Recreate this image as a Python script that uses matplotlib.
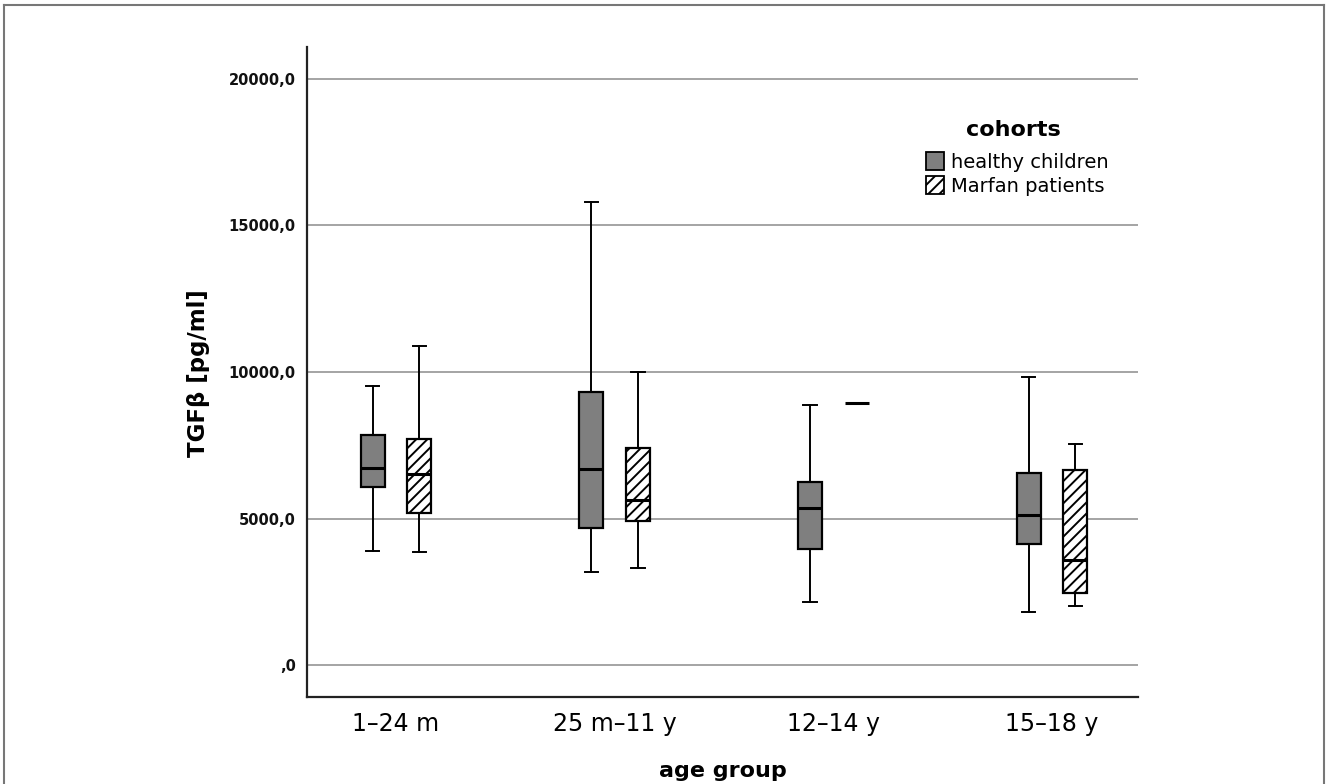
import matplotlib
matplotlib.use("Agg")
import matplotlib.pyplot as plt
from matplotlib.patches import Patch
from matplotlib.lines import Line2D

categories = ["1–24 m", "25 m–11 y", "12–14 y", "15–18 y"]
cohorts = ["healthy children", "Marfan patients"]

# box stats per category: (whisker_low, q1, median, q3, whisker_high)
healthy_low = [3890, 3180, 2140, 1820]
healthy_q1 = [6090, 4670, 3950, 4120]
healthy_med = [6730, 6680, 5350, 5120]
healthy_q3 = [7840, 9310, 6235, 6540]
healthy_high = [9510, 15790, 8870, 9820]

marfan_low = [3850, 3320, 8950, 2010]
marfan_q1 = [5180, 4915, 8950, 2450]
marfan_med = [6520, 5630, 8950, 3585]
marfan_q3 = [7700, 7395, 8950, 6655]
marfan_high = [10900, 10010, 8950, 7530]

y_ticks = [0, 5000, 10000, 15000, 20000]

plt.rcParams['font.family'] = ['DejaVu Sans']
plt.rcParams['hatch.linewidth'] = 1.4

fig = plt.figure(figsize=(13.28, 7.84), dpi=100)
ax = fig.add_axes([307/1328, 1-697/784, (1138-307)/1328, (697-47)/784])

def stats(low, q1, med, q3, high):
    return [dict(whislo=l, q1=a, med=m, q3=b, whishi=h, fliers=[])
            for l, a, m, b, h in zip(low, q1, med, q3, high)]

offset = 0.107
width = 0.11
pos = list(range(len(categories)))

common = dict(widths=width, showfliers=False, patch_artist=True,
              medianprops=dict(color='black', linewidth=2.2),
              whiskerprops=dict(color='black', linewidth=1.4),
              capprops=dict(color='black', linewidth=1.4),
              boxprops=dict(edgecolor='black', linewidth=1.6),
              capwidths=width*0.55, manage_ticks=False)

bh = ax.bxp(stats(healthy_low, healthy_q1, healthy_med, healthy_q3, healthy_high),
            positions=[p - offset for p in pos], **common)
for b in bh['boxes']:
    b.set_facecolor('#7f7f7f')

mf_stats = stats(marfan_low, marfan_q1, marfan_med, marfan_q3, marfan_high)
bm = ax.bxp(mf_stats, positions=[p + offset for p in pos], **common)
for i, b in enumerate(bm['boxes']):
    b.set_facecolor('white')
    b.set_hatch('///')
    if marfan_q1[i] == marfan_q3[i]:
        b.set_visible(False)
        for art in bm['whiskers'][2*i:2*i+2] + bm['caps'][2*i:2*i+2]:
            art.set_visible(False)

ax.set_xlim(-0.407, 3.393)
ax.set_ylim(-1092, 21092)
ax.set_yticks(y_ticks)
ax.set_yticklabels([("%.1f" % v).replace('.', ',') if v != 0 else ",0" for v in y_ticks])
ax.set_xticks(pos)
ax.set_xticklabels(categories, fontsize=17)
ax.tick_params(axis='y', length=0, pad=8, labelsize=10.5, labelcolor='#111111')
ax.tick_params(axis='x', length=0, pad=11)
for lab in ax.get_yticklabels():
    lab.set_fontweight('semibold')
ax.yaxis.grid(True, color='#8c8c8c', linewidth=1.1)
ax.set_axisbelow(True)
for s in ['top', 'right']:
    ax.spines[s].set_visible(False)
for s in ['left', 'bottom']:
    ax.spines[s].set_linewidth(1.6)
    ax.spines[s].set_color('#222222')

fig.text(198/1328, 1-373/784, "TGFβ [pg/ml]", rotation=90, fontsize=16.5,
         fontweight='bold', ha='center', va='center')
fig.text(723/1328, 1-771/784, "age group", fontsize=16,
         fontweight='bold', ha='center', va='center')

# legend
fig.text(1013/1328, 1-130/784, "cohorts", fontsize=16, fontweight='bold',
         ha='center', va='center')
handles = [Patch(facecolor='#7f7f7f', edgecolor='black', linewidth=1.3),
           Patch(facecolor='white', edgecolor='black', hatch='///', linewidth=1.3)]
fig.legend(handles, cohorts, frameon=False, loc='upper left',
           bbox_to_anchor=(926/1328, 1-152/784),
           fontsize=14, handlelength=0.95, handleheight=1.05, handletextpad=0.35,
           labelspacing=0.22, borderpad=0, borderaxespad=0)

# outer frame of the figure
frame_color = '#777777'
fig.add_artist(Line2D([4/1328, 4/1328], [0, 1-5/784], color=frame_color, lw=1.5, transform=fig.transFigure))
fig.add_artist(Line2D([4/1328, 1324/1328], [1-5/784, 1-5/784], color=frame_color, lw=1.5, transform=fig.transFigure))
fig.add_artist(Line2D([1324/1328, 1324/1328], [0, 1-5/784], color=frame_color, lw=1.5, transform=fig.transFigure))

fig.savefig("out.png", dpi=100)
